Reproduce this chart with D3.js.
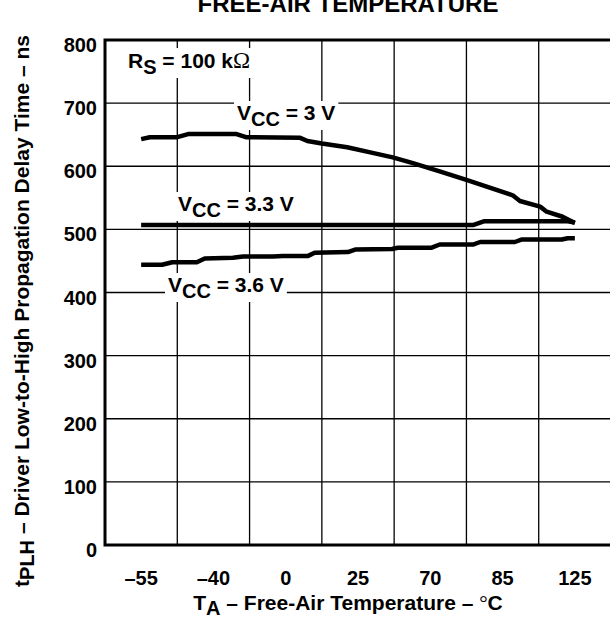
<!DOCTYPE html>
<html>
<head>
<meta charset="utf-8">
<script src="https://cdn.jsdelivr.net/npm/d3@7"></script>
<style>
  html, body { margin: 0; padding: 0; background: #fff; overflow: hidden; }
  svg { display: block; font-family: 'Liberation Sans', Arial, Helvetica, sans-serif; font-weight: bold; }
</style>
</head>
<body>
<div id="chart"></div>
<script>
// column categories on the temperature axis (non-linear, evenly spaced)
const columns = ['–55', '–40', '0', '25', '70', '85', '125']
const yTicks = [0, 100, 200, 300, 400, 500, 600, 700, 800]

// curves: [column position, delay ns] (column position 0 = center of first column)
const vcc3 = [
  [0, 643], [0.12, 646], [0.5, 646], [0.65, 651], [1.32, 651], [1.45, 646],
  [2.2, 645], [2.3, 640], [2.5, 636], [2.85, 630], [3.17, 622], [3.48, 614],
  [3.76, 605], [4.13, 592], [4.51, 578], [5.14, 554], [5.24, 545], [5.52, 536],
  [5.61, 528], [5.83, 520], [6.0, 510]
]
const vcc33 = [
  [0, 507], [4.6, 507], [4.75, 513], [5.9, 513], [6.0, 511]
]
const vcc36 = [
  [0, 444], [0.29, 444], [0.43, 448], [0.77, 448], [0.88, 454], [1.27, 455],
  [1.41, 457], [1.82, 457], [1.96, 458], [2.31, 458], [2.4, 463], [2.86, 464],
  [2.96, 468], [3.47, 469], [3.55, 471], [4.02, 471], [4.13, 476], [4.59, 476],
  [4.69, 480], [5.17, 480], [5.27, 484], [5.82, 484], [5.9, 486], [6.0, 486]
]

const width = 610
const height = 618
const plot = { left: 105, right: 611, top: 40, bottom: 545 }

const svg = d3
  .select('#chart')
  .append('svg')
  .attr('width', width)
  .attr('height', height)

const xBand = d3.scaleBand().domain(columns).range([plot.left, plot.right])
const x = d3.scaleLinear().domain([-0.5, columns.length - 0.5]).range([plot.left, plot.right])
const y = d3.scaleLinear().domain([0, 800]).range([plot.bottom, plot.top])

// Grid
const grid = svg.append('g').attr('stroke', '#000').attr('stroke-width', 1.3)
grid
  .selectAll('line.v')
  .data(columns.slice(1))
  .enter()
  .append('line')
  .attr('x1', (d) => xBand(d))
  .attr('x2', (d) => xBand(d))
  .attr('y1', plot.top)
  .attr('y2', plot.bottom)
grid
  .selectAll('line.h')
  .data(yTicks.slice(1, -1))
  .enter()
  .append('line')
  .attr('x1', plot.left)
  .attr('x2', plot.right)
  .attr('y1', (d) => y(d))
  .attr('y2', (d) => y(d))

// Frame
svg
  .append('rect')
  .attr('x', plot.left)
  .attr('y', plot.top)
  .attr('width', plot.right - plot.left + 4)
  .attr('height', plot.bottom - plot.top)
  .attr('fill', 'none')
  .attr('stroke', '#000')
  .attr('stroke-width', 3)

// Tick labels
svg
  .append('g')
  .selectAll('text')
  .data(yTicks)
  .enter()
  .append('text')
  .attr('x', 97)
  .attr('y', (d) => y(d) + 12)
  .attr('text-anchor', 'end')
  .attr('font-size', 20)
  .text((d) => d)

svg
  .append('g')
  .selectAll('text')
  .data(columns)
  .enter()
  .append('text')
  .attr('x', (d) => xBand(d) + xBand.bandwidth() / 2)
  .attr('y', 585)
  .attr('text-anchor', 'middle')
  .attr('font-size', 20)
  .text((d) => d)

// Curves
const line = d3
  .line()
  .x((d) => x(d[0]))
  .y((d) => y(d[1]))

svg
  .append('g')
  .selectAll('path')
  .data([vcc3, vcc33, vcc36])
  .enter()
  .append('path')
  .attr('d', line)
  .attr('fill', 'none')
  .attr('stroke', '#000')
  .attr('stroke-width', 4.5)
  .attr('stroke-linejoin', 'round')

// Labels with white boxes behind them
function label(px, py, parts) {
  const g = svg.append('g')
  const bg = g.append('rect').attr('fill', '#fff')
  const t = g.append('text').attr('x', px).attr('y', py).attr('font-size', 21)
  parts.forEach((p) => {
    const s = t.append('tspan').text(p.text)
    if (p.sub) s.attr('dy', 6).attr('font-size', 20)
    if (p.back) s.attr('dy', -6)
    if (p.symbol) s.attr('font-family', "'Liberation Serif', 'Times New Roman', serif").attr('font-weight', 'normal').attr('font-size', 23)
  })
  const b = t.node().getBBox()
  bg.attr('x', b.x - 3).attr('y', b.y).attr('width', b.width + 6).attr('height', b.height)
}

label(128, 68, [{ text: 'R' }, { text: 'S', sub: true }, { text: ' = 100 k', back: true }, { text: 'Ω', symbol: true }])
label(237, 120, [{ text: 'V' }, { text: 'CC', sub: true }, { text: ' = 3 V', back: true }])
label(178, 211, [{ text: 'V' }, { text: 'CC', sub: true }, { text: ' = 3.3 V', back: true }])
label(168, 292, [{ text: 'V' }, { text: 'CC', sub: true }, { text: ' = 3.6 V', back: true }])

// Titles
svg
  .append('text')
  .attr('x', 348)
  .attr('y', 12)
  .attr('text-anchor', 'middle')
  .attr('font-size', 24)
  .text('FREE-AIR TEMPERATURE')

const xt = svg
  .append('text')
  .attr('x', 348)
  .attr('y', 610)
  .attr('text-anchor', 'middle')
  .attr('font-size', 21)
xt.append('tspan').text('T')
xt.append('tspan').attr('dy', 5).attr('font-size', 20).text('A')
xt.append('tspan').attr('dy', -5).text(' – Free-Air Temperature – ')
xt.append('tspan').attr('font-weight', 'normal').attr('font-family', "'Liberation Serif', serif").text('°')
xt.append('tspan').text('C')

const yt = svg
  .append('text')
  .attr('transform', 'translate(29,311) rotate(-90)')
  .attr('text-anchor', 'middle')
  .attr('font-size', 21)
yt.append('tspan').text('t')
yt.append('tspan').attr('dy', 5).attr('font-size', 20).text('PLH')
yt.append('tspan').attr('dy', -5).text(' – Driver Low-to-High Propagation Delay Time – ns')
</script>
</body>
</html>
